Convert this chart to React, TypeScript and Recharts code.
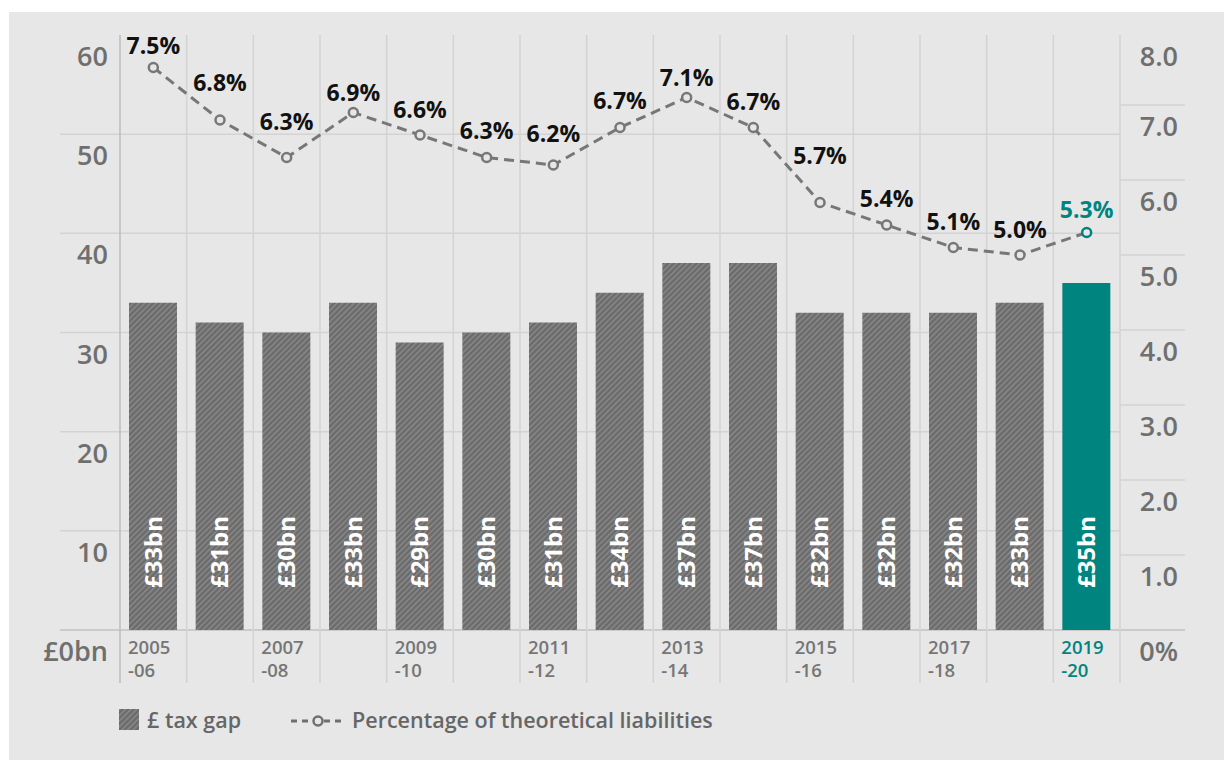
import React from "react";
import {
  ComposedChart,
  Bar,
  Line,
  XAxis,
  YAxis,
  Cell,
  LabelList,
  CartesianGrid,
} from "recharts";

const PERIODS = [
  "2005-06", "2006-07", "2007-08", "2008-09", "2009-10",
  "2010-11", "2011-12", "2012-13", "2013-14", "2014-15",
  "2015-16", "2016-17", "2017-18", "2018-19", "2019-20",
];
const TAX_GAP_BN = [33, 31, 30, 33, 29, 30, 31, 34, 37, 37, 32, 32, 32, 33, 35];
const PCT_LIABILITIES = [7.5, 6.8, 6.3, 6.9, 6.6, 6.3, 6.2, 6.7, 7.1, 6.7, 5.7, 5.4, 5.1, 5.0, 5.3];
const LEFT_TICKS = [0, 10, 20, 30, 40, 50, 60];
const RIGHT_TICKS = [0, 1, 2, 3, 4, 5, 6, 7, 8];

// how far each % label sits above its point (hand placed in the original)
const PCT_LABEL_LIFT = [22, 37, 36, 20, 25, 27, 31, 27, 20, 26, 47, 26, 26, 25, 23];

const W = 1224;
const H = 760;
const PLOT_LEFT = 120;
const PLOT_RIGHT = 1120;
const PLOT_TOP = 35;
const PLOT_BOTTOM = 630;
const GRID_LEFT = 60;
const GRID_RIGHT = 1185;
const GRID_BOTTOM = 683;
const BAND = (PLOT_RIGHT - PLOT_LEFT) / PERIODS.length;
// the % axis runs 0..8 over 600px, a touch taller than the plot
const PCT_MAX = 8 * (PLOT_BOTTOM - PLOT_TOP) / 600;

const BG = "#e7e7e7";
const TEAL = "#00847f";
const GREY_TEXT = "#6f6f6f";
const GRID = "#d3d3d3";
const FONT = "'Open Sans', sans-serif";

const data = PERIODS.map((period, i) => ({
  period,
  gap: TAX_GAP_BN[i],
  pct: PCT_LIABILITIES[i],
}));

const near = (a: number, b: number) => Math.abs(a - b) < 1;

// horizontal grid for the £bn axis, reaching out under the tick labels
const bnGridLine = (p: any) => {
  const y = p.y1;
  if (near(y, PLOT_TOP)) return <g key={p.key ?? `bn-${p.index}`} />;
  const base = near(y, PLOT_BOTTOM);
  return (
    <line
      key={p.key ?? `bn-${p.index}`}
      x1={GRID_LEFT}
      x2={base ? GRID_RIGHT : PLOT_RIGHT}
      y1={y}
      y2={y}
      stroke={base ? "#c2c2c2" : GRID}
      strokeWidth={1.5}
    />
  );
};

// short grid stubs for the % axis, right of the plot only
const pctGridLine = (p: any) => {
  const y = p.y1;
  if (near(y, PLOT_TOP) || near(y, PLOT_BOTTOM) || y < PLOT_TOP) return <g key={p.key ?? `pct-${p.index}`} />;
  return (
    <line
      key={p.key ?? `pct-${p.index}`}
      x1={PLOT_RIGHT}
      x2={GRID_RIGHT}
      y1={y}
      y2={y}
      stroke={GRID}
      strokeWidth={1.5}
    />
  );
};

// vertical lines sit on the category boundaries, not the centres
const bandGridLine = (p: any) => {
  const key = p.key ?? `v-${p.index}`;
  if (p.x1 <= PLOT_LEFT + 1 || p.x1 >= PLOT_RIGHT - 1) return <g key={key} />;
  const left = p.x1 - BAND / 2;
  const first = left < PLOT_LEFT + 1;
  const last = p.x1 + BAND / 2 > PLOT_RIGHT - 1;
  return (
    <g key={key}>
      <line x1={left} x2={left} y1={PLOT_TOP} y2={GRID_BOTTOM} stroke={first ? "#bcbcbc" : GRID} strokeWidth={1.5} />
      {last && (
        <line x1={left + BAND} x2={left + BAND} y1={PLOT_TOP} y2={GRID_BOTTOM} stroke={GRID} strokeWidth={1.5} />
      )}
    </g>
  );
};

const LeftTick = (props: any) => {
  const { y, payload } = props;
  const v = payload.value;
  return (
    <text
      x={108}
      y={y + 31}
      textAnchor="end"
      fill={GREY_TEXT}
      fontSize={27}
      fontWeight={600}
      fontFamily={FONT}
    >
      {v === 0 ? "£0bn" : v}
    </text>
  );
};

const RightTick = (props: any) => {
  const { y, payload } = props;
  const v = Math.round(payload.value);
  return (
    <text
      x={1178}
      y={y + 31}
      textAnchor="end"
      fill={GREY_TEXT}
      fontSize={27}
      fontWeight={600}
      fontFamily={FONT}
    >
      {v === 0 ? "0%" : v.toFixed(1)}
    </text>
  );
};

const PeriodTick = (props: any) => {
  const { x, payload, index } = props;
  if (index % 2 !== 0) return <g />;
  const left = x - BAND / 2;
  const last = index === PERIODS.length - 1;
  const [yr, suffix] = String(payload.value).split("-");
  return (
    <g>
      <text x={left + 8} y={654} fill={last ? TEAL : "#767676"} fontSize={18.5} fontWeight={600} fontFamily={FONT}>
        {yr}
      </text>
      <text x={left + 8} y={677} fill={last ? TEAL : "#767676"} fontSize={18.5} fontWeight={600} fontFamily={FONT}>
        {`-${suffix}`}
      </text>
    </g>
  );
};

const BarValueLabel = (props: any) => {
  const { x, y, width, height, value } = props;
  const cx = x + width / 2 + 8.5;
  const cy = y + height - 78;
  return (
    <text
      x={cx}
      y={cy}
      transform={`rotate(-90, ${cx}, ${cy})`}
      textAnchor="middle"
      fill="#ffffff"
      fontSize={24}
      fontWeight={700}
      fontFamily={FONT}
    >
      {`£${value}bn`}
    </text>
  );
};

const PctLabel = (props: any) => {
  const { x, y, value, index } = props;
  const last = index === PERIODS.length - 1;
  return (
    <text
      x={x}
      y={y - PCT_LABEL_LIFT[index] + 8}
      textAnchor="middle"
      fill={last ? TEAL : "#111111"}
      fontSize={23}
      fontWeight={700}
      fontFamily={FONT}
    >
      {`${Number(value).toFixed(1)}%`}
    </text>
  );
};

const PctDot = (props: any) => {
  const { cx, cy, index } = props;
  return (
    <circle
      key={`dot-${index}`}
      cx={cx}
      cy={cy}
      r={4.5}
      fill={BG}
      stroke={index === PERIODS.length - 1 ? TEAL : "#777777"}
      strokeWidth={2.5}
    />
  );
};

const Legend = () => (
  <div
    style={{
      position: "absolute",
      left: 119,
      top: 705,
      display: "flex",
      alignItems: "center",
      fontFamily: FONT,
      fontWeight: 600,
      fontSize: 21.5,
      color: "#666666",
    }}
  >
    <svg width={20} height={21} style={{ marginRight: 8 }}>
      <defs>
        <pattern id="hatchLegend" width={4} height={4} patternUnits="userSpaceOnUse" patternTransform="rotate(45)">
          <rect width={4} height={4} fill="#6b6b6b" />
          <rect width={1.4} height={4} fill="#8b8b8b" />
        </pattern>
      </defs>
      <rect width={20} height={21} fill="url(#hatchLegend)" />
    </svg>
    <span>£ tax gap</span>
    <svg width={52} height={20} style={{ marginLeft: 50, marginRight: 9 }}>
      <line x1={0} x2={52} y1={11} y2={11} stroke="#6f6f6f" strokeWidth={3} strokeDasharray="6 5" />
      <circle cx={27} cy={11} r={4.5} fill={BG} stroke="#6f6f6f" strokeWidth={2.5} />
    </svg>
    <span>Percentage of theoretical liabilities</span>
  </div>
);

const TaxGapChart = () => {
  return (
    <div style={{ position: "absolute", left: 0, top: 0, width: W, height: H, background: "#ffffff" }}>
      <div style={{ position: "absolute", left: 9, top: 12, width: W - 9, height: H - 12, background: BG }} />
      <div style={{ position: "absolute", left: 0, top: 0 }}>
        <ComposedChart
          width={W}
          height={H}
          data={data}
          margin={{ top: PLOT_TOP, right: 0, bottom: H - PLOT_BOTTOM - 60, left: 0 }}
        >
          <defs>
            <pattern id="hatch" width={4} height={4} patternUnits="userSpaceOnUse" patternTransform="rotate(45)">
              <rect width={4} height={4} fill="#6b6b6b" />
              <rect width={1.4} height={4} fill="#8b8b8b" />
            </pattern>
          </defs>
          <CartesianGrid yAxisId="bn" horizontal={bnGridLine} vertical={bandGridLine} />
          <CartesianGrid yAxisId="pct" horizontal={pctGridLine} vertical={false} />
          <XAxis
            dataKey="period"
            interval={0}
            height={60}
            axisLine={false}
            tickLine={false}
            tick={<PeriodTick />}
          />
          <YAxis
            yAxisId="bn"
            width={PLOT_LEFT}
            domain={[0, 60]}
            ticks={LEFT_TICKS}
            axisLine={false}
            tickLine={false}
            tick={<LeftTick />}
          />
          <YAxis
            yAxisId="pct"
            orientation="right"
            width={W - PLOT_RIGHT}
            domain={[0, PCT_MAX]}
            ticks={RIGHT_TICKS.map((t) => (t === 8 ? PCT_MAX : t))}
            axisLine={false}
            tickLine={false}
            tick={<RightTick />}
          />
          <Bar yAxisId="bn" dataKey="gap" barSize={48} isAnimationActive={false}>
            {data.map((d, i) => (
              <Cell key={d.period} fill={i === data.length - 1 ? TEAL : "url(#hatch)"} />
            ))}
            <LabelList dataKey="gap" content={<BarValueLabel />} />
          </Bar>
          <Line
            yAxisId="pct"
            type="linear"
            dataKey="pct"
            stroke="#777777"
            strokeWidth={3}
            strokeDasharray="10 6"
            dot={<PctDot />}
            activeDot={false}
            isAnimationActive={false}
          >
            <LabelList dataKey="pct" content={<PctLabel />} />
          </Line>
        </ComposedChart>
      </div>
      <Legend />
    </div>
  );
};

export default function App() {
  return <TaxGapChart />;
}
